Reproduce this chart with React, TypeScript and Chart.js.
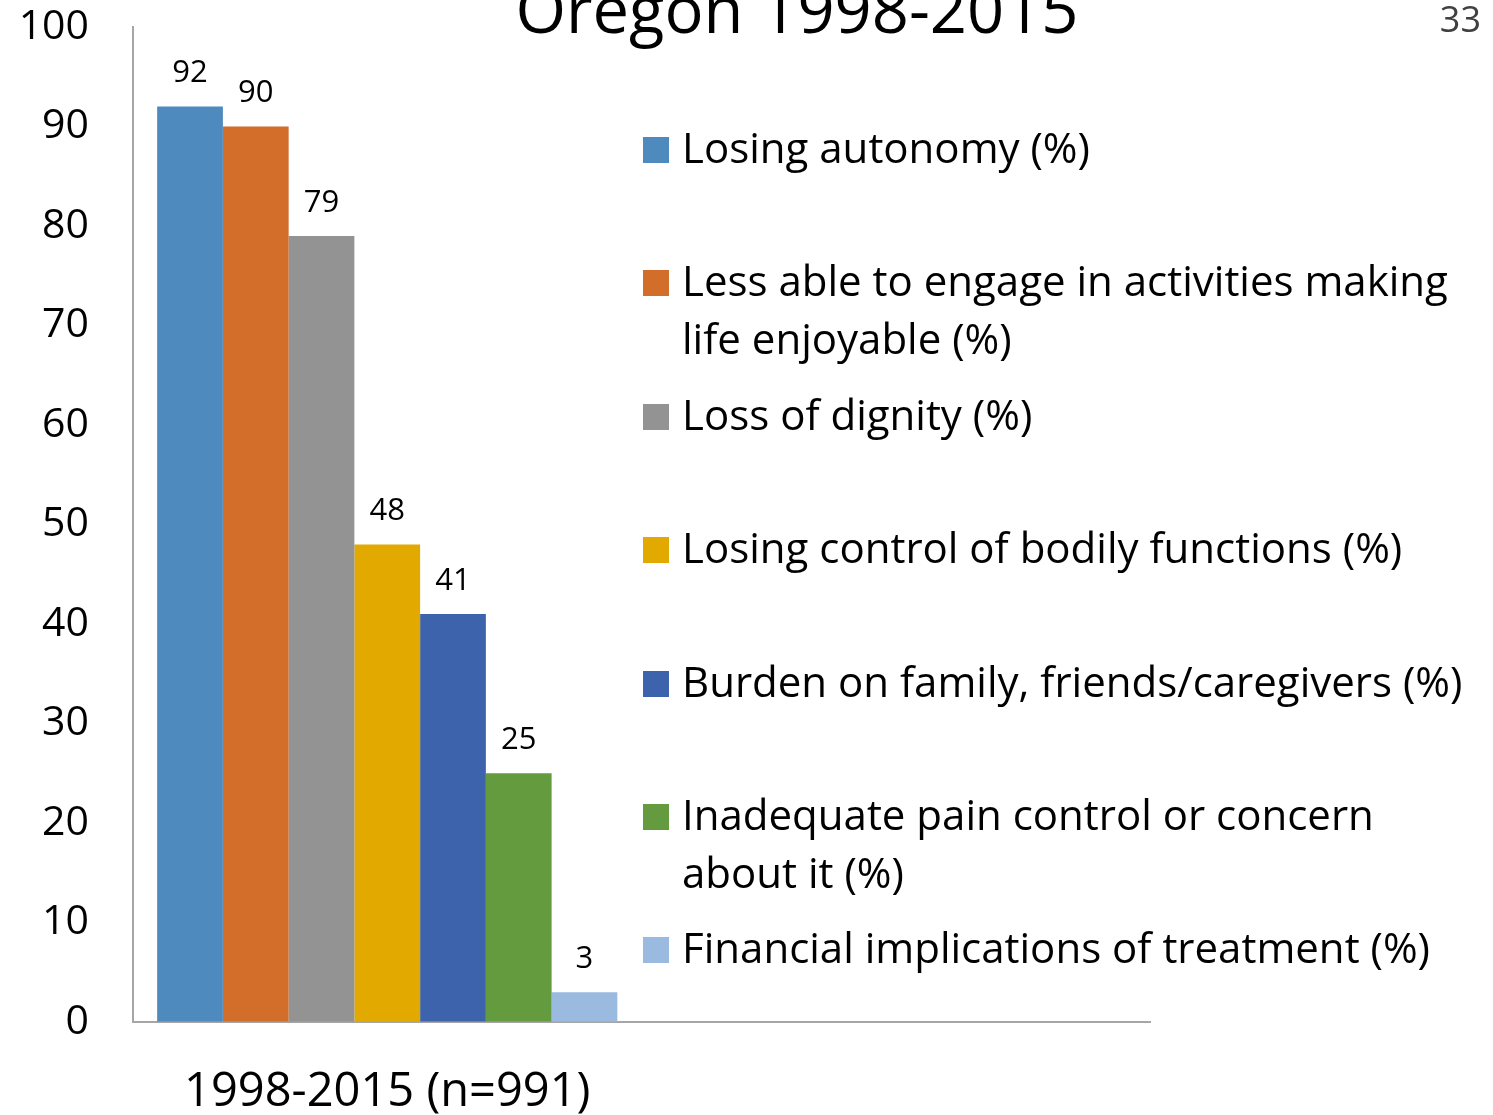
import React, { useEffect, useRef } from "react";
import { Chart, registerables } from "chart.js";

Chart.register(...registerables);

const categories = ["1998-2015 (n=991)", ""];
const seriesNames = [
  "Losing autonomy (%)",
  "Less able to engage in activities making life enjoyable (%)",
  "Loss of dignity (%)",
  "Losing control of bodily functions (%)",
  "Burden on family, friends/caregivers (%)",
  "Inadequate pain control or concern about it (%)",
  "Financial implications of treatment (%)",
];
const legendLines = [
  ["Losing autonomy (%)"],
  ["Less able to engage in activities making", "life enjoyable (%)"],
  ["Loss of dignity (%)"],
  ["Losing control of bodily functions (%)"],
  ["Burden on family, friends/caregivers (%)"],
  ["Inadequate pain control or concern", "about it (%)"],
  ["Financial implications of treatment (%)"],
];
const seriesValues = [92, 90, 79, 48, 41, 25, 3];
const seriesColors = ["#4F8ABE", "#D26D2A", "#939393", "#E2AA00", "#3C63AC", "#639B3E", "#9ABAE0"];
const yTicks = [0, 10, 20, 30, 40, 50, 60, 70, 80, 90, 100];
const legendTops = [118, 251, 385, 518, 652, 785, 918];

const FONT = "'Open Sans', Lato, sans-serif";

const valueLabels = {
  id: "valueLabels",
  afterDatasetsDraw(chart: any) {
    const ctx = chart.ctx;
    ctx.save();
    ctx.font = `31px ${FONT}`;
    ctx.fillStyle = "#000";
    ctx.textAlign = "center";
    ctx.textBaseline = "middle";
    chart.data.datasets.forEach((ds: any, i: number) => {
      const meta = chart.getDatasetMeta(i);
      meta.data.forEach((bar: any, j: number) => {
        const v = ds.data[j];
        if (v === null || v === undefined) return;
        ctx.fillText(String(v), bar.x, bar.y - 33);
      });
    });
    ctx.restore();
  },
};

export default function App() {
  const ref = useRef<HTMLCanvasElement>(null);
  useEffect(() => {
    if (!ref.current) return;
    const chart = new Chart(ref.current, {
      type: "bar",
      data: {
        labels: categories,
        datasets: seriesNames.map((name, i) => ({
          label: name,
          data: [seriesValues[i], null],
          backgroundColor: seriesColors[i],
          borderWidth: 0,
          barPercentage: 1,
          categoryPercentage: 0.905,
        })),
      },
      options: {
        animation: false,
        responsive: false,
        maintainAspectRatio: false,
        layout: { padding: { top: 27, right: 343, left: 0, bottom: 0 } },
        plugins: {
          legend: { display: false },
          tooltip: { enabled: false },
          title: { display: false },
        },
        scales: {
          x: {
            grid: { display: false, drawTicks: false },
            border: { display: true, color: "#A6A6A6", width: 2 },
            ticks: {
              font: { family: FONT, size: 47, lineHeight: 1.2 },
              color: "#000",
              padding: 42,
              maxRotation: 0,
            },
            afterFit(scale: any) {
              scale.height = 93;
            },
          },
          y: {
            min: 0,
            max: 100,
            afterBuildTicks(scale: any) {
              scale.ticks = yTicks.map((v) => ({ value: v }));
            },
            grid: {
              display: true,
              drawOnChartArea: false,
              drawTicks: true,
              tickLength: 44,
              tickColor: "rgba(0,0,0,0)",
            },
            border: { display: true, color: "#A6A6A6", width: 2 },
            ticks: {
              font: { family: FONT, size: 41, lineHeight: 1.2 },
              color: "#000",
              padding: 0,
            },
            afterFit(scale: any) {
              scale.width = 133;
            },
          },
        },
      },
      plugins: [valueLabels],
    });
    return () => chart.destroy();
  }, []);

  return (
    <div style={{ position: "fixed", left: 0, top: 0, width: 1493, height: 1115, background: "#fff", overflow: "hidden", fontFamily: FONT }}>
      <canvas ref={ref} width={1493} height={1115} style={{ position: "absolute", left: 0, top: 0 }} />
      <div style={{ position: "absolute", left: 0, width: 1594, top: -27, textAlign: "center", fontSize: 65, lineHeight: "70px", color: "#000", whiteSpace: "nowrap" }}>
        Oregon 1998-2015
      </div>
      <div style={{ position: "absolute", right: 12, top: -1, fontSize: 36, lineHeight: "40px", color: "#404040" }}>33</div>
      {legendLines.map((lines, i) => (
        <div key={i} style={{ position: "absolute", left: 643, top: legendTops[i], display: "flex", alignItems: "flex-start" }}>
          <div style={{ width: 26, height: 26, background: seriesColors[i], marginTop: 19, marginRight: 13, flex: "none" }} />
          <div style={{ fontSize: 42, lineHeight: "58px", color: "#000", whiteSpace: "nowrap" }}>
            {lines.map((l, k) => (
              <div key={k}>{l}</div>
            ))}
          </div>
        </div>
      ))}
    </div>
  );
}
